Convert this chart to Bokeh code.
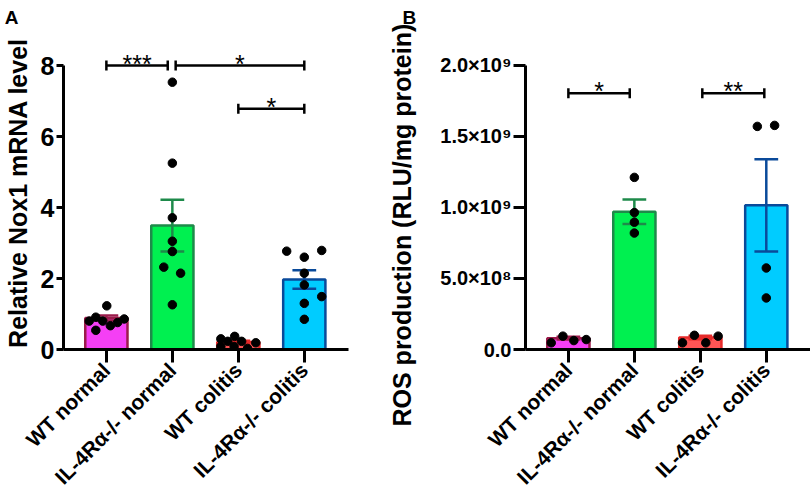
import math
from bokeh.plotting import figure
from bokeh.layouts import row
from bokeh.models import FixedTicker, CustomJSTickFormatter, Range1d, Title
from bokeh.core.properties import value
from bokeh.embed import file_html
from bokeh.resources import INLINE

# ---------------- data ----------------
categories = ["WT normal", "IL-4Rα-/- normal", "WT colitis", "IL-4Rα-/- colitis"]
fill_colors = ["#F53FF5", "#00F050", "#FF5555", "#00CCFF"]
line_colors = ["#9B1B4B", "#1E8A4A", "#E62A2A", "#0A4A9A"]

# Panel A: Relative Nox1 mRNA level
nox1_mean = [0.89, 3.49, 0.21, 1.97]
nox1_sem = [0.07, 0.73, 0.04, 0.26]
nox1_group = [0] * 8 + [1] * 8 + [2] * 8 + [3] * 8
nox1_jitter = [-0.26, -0.16, -0.055, 0.06, 0.17, 0.27, 0.006, -0.16,
               0.0, 0.0, 0.0, 0.0, 0.0, -0.13, 0.125, 0.0,
               -0.265, -0.16, -0.055, 0.05, 0.265, -0.265, -0.064, 0.14,
               -0.267, 0.0, 0.264, 0.0, 0.0, 0.264, 0.0, 0.0]
nox1_values = [0.80, 0.91, 0.80, 0.67, 0.76, 0.86, 1.23, 0.54,
               7.53, 5.25, 3.71, 3.05, 2.76, 2.32, 2.15, 1.26,
               0.30, 0.23, 0.37, 0.23, 0.19, 0.085, 0.085, 0.03,
               2.77, 2.60, 2.79, 2.15, 1.82, 1.49, 1.30, 0.85]
nox1_br_start = [0.0, 1.05, 2.0]
nox1_br_end = [0.93, 3.0, 3.0]
nox1_br_level = [8.0, 8.0, 6.78]
nox1_br_text = ["***", "*", "*"]
nox1_yticks = [0, 2, 4, 6, 8]
nox1_ytick_labels = ["0", "2", "4", "6", "8"]

# Panel B: ROS production
ros_mean = [0.080e9, 0.970e9, 0.085e9, 1.015e9]
ros_sem = [0.010e9, 0.087e9, 0.012e9, 0.325e9]
ros_group = [0] * 4 + [1] * 4 + [2] * 4 + [3] * 4
ros_jitter = [-0.26, -0.083, 0.083, 0.27,
              0.0, 0.0, 0.0, 0.0,
              -0.27, -0.09, 0.083, 0.27,
              -0.136, 0.126, 0.0, 0.0]
ros_values = [0.047e9, 0.094e9, 0.063e9, 0.070e9,
              1.212e9, 0.964e9, 0.896e9, 0.820e9,
              0.047e9, 0.100e9, 0.047e9, 0.094e9,
              1.571e9, 1.578e9, 0.574e9, 0.363e9]
ros_br_start = [0.0, 2.03]
ros_br_end = [0.93, 2.97]
ros_br_level = [1.805e9, 1.805e9]
ros_br_text = ["*", "**"]
ros_yticks = [0, 5e8, 1e9, 1.5e9, 2e9]
ros_ytick_labels = ["0.0", "5.0×10⁸", "1.0×10⁹", "1.5×10⁹", "2.0×10⁹"]

# ---------------- layout ----------------
FONT = "Liberation Sans"
FRAME_W, FRAME_H = 285, 313
BORDER_TOP, BORDER_BOTTOM = 36, 149
X_START, X_END = -0.65, 3.67
BAR_W = 0.64
CAP_HALF = 0.18
A_YMAX = 8.817
B_YMAX = 2.204e9


def panel(left, right, ymax, yticks, ytick_labels, ybound, means, sems,
          groups, jitter, vals, br_s, br_e, br_l, br_t,
          ytick_size, ytick_out, ytick_standoff):
    py = FRAME_H / ymax
    p = figure(frame_width=FRAME_W, frame_height=FRAME_H,
               min_border_left=left, min_border_right=right,
               min_border_top=BORDER_TOP, min_border_bottom=BORDER_BOTTOM,
               x_range=Range1d(X_START, X_END), y_range=Range1d(0, ymax),
               output_backend="svg", toolbar_location=None)
    p.outline_line_color = None
    p.grid.visible = False
    p.background_fill_color = "white"
    p.border_fill_color = "white"

    xs = list(range(len(categories)))
    p.vbar(x=xs, top=means, bottom=0, width=BAR_W, fill_color=fill_colors,
           line_color=line_colors, line_width=2.5)
    lo = [m - s for m, s in zip(means, sems)]
    hi = [m + s for m, s in zip(means, sems)]
    p.segment(x0=xs, y0=lo, x1=xs, y1=hi, line_color=line_colors, line_width=2.5)
    p.segment(x0=[x - CAP_HALF for x in xs], y0=hi, x1=[x + CAP_HALF for x in xs],
              y1=hi, line_color=line_colors, line_width=2.5)
    p.segment(x0=[x - CAP_HALF for x in xs], y0=lo, x1=[x + CAP_HALF for x in xs],
              y1=lo, line_color=line_colors, line_width=2.5)
    pts_x = [g + j for g, j in zip(groups, jitter)]
    p.scatter(x=pts_x, y=vals, size=8.5, marker="circle", color="black")

    tick_h = 5 / py
    p.segment(x0=br_s, y0=br_l, x1=br_e, y1=br_l, line_color="black", line_width=2.5)
    p.segment(x0=br_s, y0=[l - tick_h for l in br_l], x1=br_s,
              y1=[l + tick_h for l in br_l], line_color="black", line_width=2.5)
    p.segment(x0=br_e, y0=[l - tick_h for l in br_l], x1=br_e,
              y1=[l + tick_h for l in br_l], line_color="black", line_width=2.5)
    p.text(x=[(s + e) / 2 for s, e in zip(br_s, br_e)],
           y=[l + 2 / py for l in br_l], text=br_t,
           text_font=value(FONT), text_font_size="25px", text_align="center",
           text_baseline="alphabetic", text_color="black")

    for ax in (p.xaxis, p.yaxis):
        ax.axis_line_width = 3
        ax.axis_line_color = "black"
        ax.major_tick_line_width = 3
        ax.major_tick_line_color = "black"
        ax.minor_tick_line_color = None
        ax.major_tick_in = 0
        ax.major_label_text_font = FONT
        ax.major_label_text_font_style = "bold"
        ax.major_label_text_color = "black"
    p.xaxis.ticker = FixedTicker(ticks=xs)
    p.xaxis.formatter = CustomJSTickFormatter(
        args=dict(cat_labels=categories),
        code="const i = Math.round(tick); return (i >= 0 && i < cat_labels.length) ? cat_labels[i] : '';")
    p.xaxis.major_label_orientation = math.pi / 4
    p.xaxis.major_label_text_font_size = "21px"
    p.xaxis.major_tick_out = 13
    p.xaxis.major_label_standoff = 4

    p.yaxis.ticker = FixedTicker(ticks=yticks)
    p.yaxis.formatter = CustomJSTickFormatter(
        args=dict(tick_vals=yticks, tick_texts=ytick_labels),
        code="for (let i = 0; i < tick_vals.length; i++) { if (Math.abs(tick - tick_vals[i]) <= Math.abs(tick_vals[i]) * 1e-6 + 1e-9) return tick_texts[i]; } return '';")
    p.yaxis.bounds = (0, ybound)
    p.yaxis.major_label_text_font_size = ytick_size
    p.yaxis.major_tick_out = ytick_out
    p.yaxis.major_label_standoff = ytick_standoff
    return p


# figure A: 62 + 285 + 14 = 361 wide; figure B: 163 + 285 + 1 = 449 wide
pA = panel(62, 14, A_YMAX, nox1_yticks, nox1_ytick_labels, 8, nox1_mean, nox1_sem,
           nox1_group, nox1_jitter, nox1_values, nox1_br_start, nox1_br_end,
           nox1_br_level, nox1_br_text, "25px", 7, 2)
pB = panel(163, 1, B_YMAX, ros_yticks, ros_ytick_labels, 2e9, ros_mean, ros_sem,
           ros_group, ros_jitter, ros_values, ros_br_start, ros_br_end,
           ros_br_level, ros_br_text, "20px", 12, 2)

# Panel A: y-axis title
pA.yaxis.axis_label = "Relative Nox1 mRNA level"
pA.yaxis.axis_label_text_font = FONT
pA.yaxis.axis_label_text_font_style = "bold"
pA.yaxis.axis_label_text_font_size = "25px"
pA.yaxis.axis_label_text_color = "black"
pA.yaxis.axis_label_standoff = 6

# Panel B: y-axis title placed as a side title so it can sit lower than centre
pB.add_layout(Title(text="ROS production (RLU/mg protein)", align="left", offset=-77,
                    standoff=44, text_font=FONT, text_font_size="25px",
                    text_font_style="bold", text_color="black"), "left")

# Panel letters
pA.add_layout(Title(text="A", align="left", offset=3.3 - 62, standoff=12.5,
                    vertical_align="top",
                    text_font=FONT, text_font_size="19px", text_font_style="bold",
                    text_color="black"), "above")
pB.add_layout(Title(text="B", align="left", offset=401 - 361 - 163, standoff=12.5,
                    vertical_align="top",
                    text_font=FONT, text_font_size="19px", text_font_style="bold",
                    text_color="black"), "above")

layout = row(pA, pB, spacing=0)
open("out.html", "w").write(file_html(layout, INLINE))
